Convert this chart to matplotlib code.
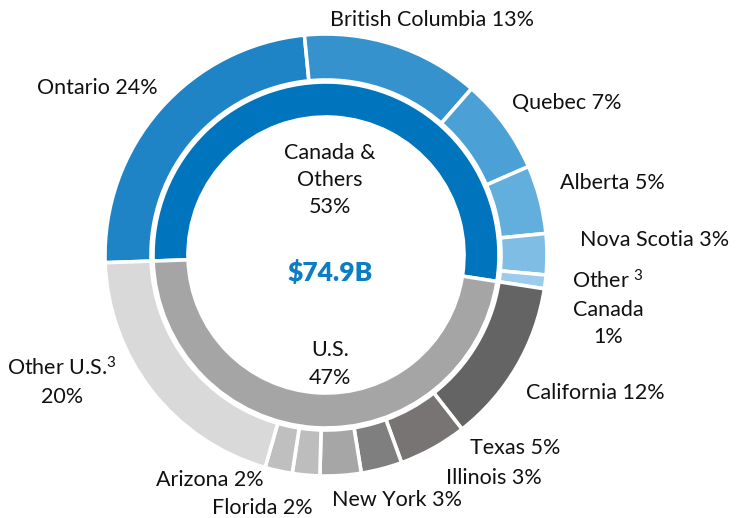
import matplotlib
matplotlib.use('Agg')
import matplotlib.pyplot as plt

plt.rcParams['font.family'] = ['Lato', 'DejaVu Sans']
plt.rcParams['mathtext.default'] = 'regular'

# regional split of the loan book
groups = ['Canada &\nOthers', 'U.S.']
group_pct = [53, 47]
group_colors = ['#0075be', '#a5a5a5']

regions = ['Ontario', 'British Columbia', 'Quebec', 'Alberta', 'Nova Scotia',
           'Other$^{\\ 3}$\nCanada', 'California', 'Texas', 'Illinois', 'New York',
           'Florida', 'Arizona', 'Other U.S.$^3$']
region_pct = [24, 13, 7, 5, 3, 1, 12, 5, 3, 3, 2, 2, 20]
region_colors = ['#1f84c6', '#3592cd', '#4ba0d6', '#62aedd', '#80bde5', '#9ccbeb',
                 '#646464', '#787473', '#7f7f7f', '#a6a6a6', '#bdbdbd', '#bfbfbf', '#d9d9d9']
total = '$74.9B'

# label anchor points (pixels, top-left origin); 'l' = one line, 'n' = pct on its own line
label_xy = [(97, 88, 'l'), (432, 20, 'l'), (567, 103, 'l'), (612, 183, 'l'), (655, 240, 'l'),
            (608, 308, 'n'), (595, 393, 'l'), (515, 448, 'l'), (494, 478, 'l'),
            (397, 500, 'l'), (262, 508, 'l'), (210, 480, 'l'), (62, 382, 'n')]

W, H = 736, 518
cx, cy, R = 326, H - 255, 221

fig = plt.figure(figsize=(W / 100, H / 100), dpi=100)
ax = fig.add_axes([0, 0, 1, 1])
ax.axis('off')

start = 182
ax.pie(region_pct, colors=region_colors, radius=R, center=(cx, cy), startangle=start,
       counterclock=False, wedgeprops=dict(width=46, edgecolor='white', linewidth=2.6))
ax.pie(group_pct, colors=group_colors, radius=173, center=(cx, cy), startangle=start,
       counterclock=False, wedgeprops=dict(width=35, edgecolor='white', linewidth=2.6))
ax.set_xlim(0, W)
ax.set_ylim(0, H)

fs = 15.5
for name, pct, (px, py, mode) in zip(regions, region_pct, label_xy):
    txt = f'{name} {pct}%' if mode == 'l' else f'{name}\n{pct}%'
    ax.text(px, H - py, txt, ha='center', va='center', fontsize=fs,
            linespacing=1.45, color='#111111')

ax.text(cx + 4, H - 180, f'{groups[0]}\n{group_pct[0]}%', ha='center', va='center',
        fontsize=fs, linespacing=1.45, color='#111111')
ax.text(cx + 4, H - 364, f'{groups[1]}\n{group_pct[1]}%', ha='center', va='center',
        fontsize=fs, linespacing=1.45, color='#111111')
ax.text(cx + 4, H - 272, total.replace('$', r'\$'), ha='center', va='center',
        fontsize=19, fontweight='heavy', color='#0a7dc4')

fig.savefig('out.png', dpi=100)
